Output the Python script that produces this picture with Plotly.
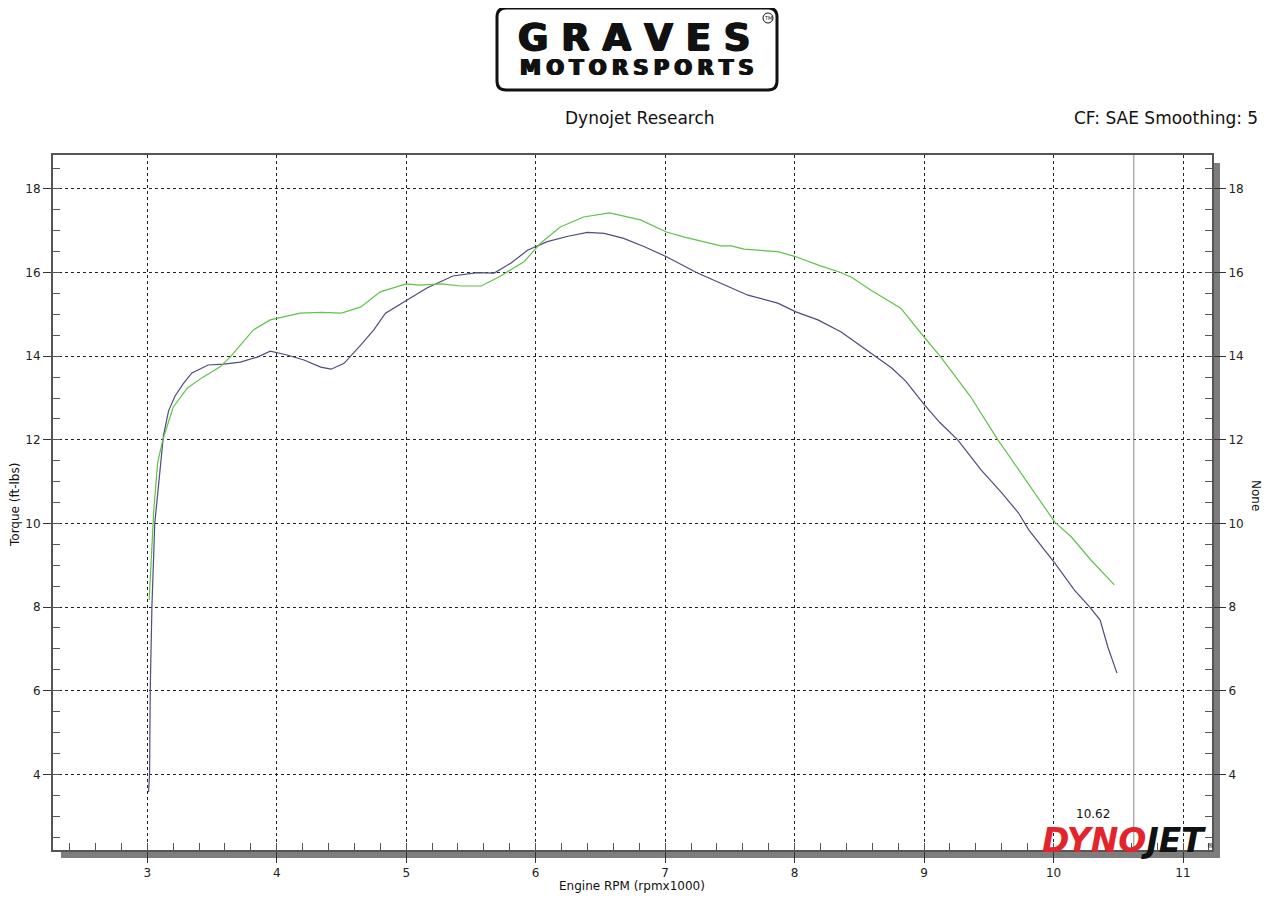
import plotly.graph_objects as go

# ---------------- data (read from the dyno sheet) ----------------
rpm_run1 = [3.01, 3.018, 3.023, 3.036, 3.058, 3.10, 3.125, 3.165, 3.215, 3.28, 3.345, 3.47, 3.59,
            3.72, 3.85, 3.95, 4.08, 4.21, 4.34, 4.42, 4.52, 4.65, 4.75, 4.84, 5.01, 5.16, 5.36,
            5.55, 5.68, 5.81, 5.94, 6.09, 6.25, 6.40, 6.53, 6.68, 6.84, 7.01, 7.25, 7.43, 7.64,
            7.87, 8.01, 8.18, 8.36, 8.49, 8.61, 8.75, 8.86, 9.0, 9.12, 9.26, 9.44, 9.60, 9.73,
            9.81, 10.01, 10.16, 10.28, 10.36, 10.42, 10.49]
torque_run1 = [3.57, 4.0, 6.0, 8.0, 10.0, 11.3, 12.1, 12.7, 13.05, 13.35, 13.6, 13.79, 13.81,
               13.86, 13.98, 14.12, 14.03, 13.91, 13.74, 13.69, 13.83, 14.27, 14.63, 15.03, 15.34,
               15.63, 15.92, 16.0, 15.99, 16.23, 16.54, 16.74, 16.87, 16.96, 16.94, 16.82, 16.62,
               16.38, 15.99, 15.75, 15.46, 15.27, 15.06, 14.87, 14.58, 14.29, 14.03, 13.72, 13.40,
               12.85, 12.42, 12.0, 11.28, 10.73, 10.25, 9.84, 9.05, 8.41, 8.0, 7.69, 7.04, 6.42]

rpm_run2 = [3.015, 3.03, 3.05, 3.08, 3.12, 3.20, 3.31, 3.43, 3.56, 3.64, 3.72, 3.82, 3.95, 4.18,
            4.35, 4.5, 4.65, 4.80, 5.0, 5.10, 5.27, 5.42, 5.58, 5.73, 5.91, 6.04, 6.19, 6.37, 6.57,
            6.71, 6.81, 7.01, 7.15, 7.43, 7.51, 7.61, 7.87, 8.0, 8.20, 8.34, 8.44, 8.59, 8.82, 9.0,
            9.13, 9.36, 9.57, 9.75, 9.91, 10.01, 10.14, 10.29, 10.47]
torque_run2 = [8.17, 9.2, 10.3, 11.45, 12.0, 12.78, 13.24, 13.5, 13.74, 13.98, 14.27, 14.63, 14.87,
               15.03, 15.05, 15.03, 15.18, 15.54, 15.73, 15.70, 15.73, 15.68, 15.68, 15.92, 16.26,
               16.71, 17.09, 17.33, 17.43, 17.33, 17.26, 16.97, 16.85, 16.64, 16.64, 16.56, 16.50,
               16.39, 16.16, 16.02, 15.89, 15.58, 15.15, 14.46, 13.98, 13.03, 12.0, 11.2, 10.49,
               10.03, 9.67, 9.12, 8.53]

x_ticks = [3, 4, 5, 6, 7, 8, 9, 10, 11]
y_ticks = [4, 6, 8, 10, 12, 14, 16, 18]
cursor_rpm = 10.62

header_center = "Dynojet Research"
header_right = "CF: SAE Smoothing: 5"
x_title = "Engine RPM (rpmx1000)"
y_title = "Torque (ft-lbs)"
y2_title = "None"
logo_word1 = "GRAVES"
logo_word2 = "MOTORSPORTS"

# ---------------- layout geometry ----------------
# page body has an 8px margin, so the figure starts at (8, 8) in the window
OFF = 8
W, H = 1280 - OFF, 918 - OFF
L, R, T, B = 53, 1212, 155, 850


def fx(px):
    return (px - L) / (R - L)


def fy(py):
    return (B - py) / (B - T)


FONT = "DejaVu Sans"
BLUE = "#4d4d7e"
GREEN = "#5fc24a"

fig = go.Figure()
fig.add_trace(go.Scatter(x=rpm_run1, y=torque_run1, mode="lines",
                         line=dict(color=BLUE, width=1.2), hoverinfo="x+y", showlegend=False))
fig.add_trace(go.Scatter(x=rpm_run2, y=torque_run2, mode="lines",
                         line=dict(color=GREEN, width=1.2), hoverinfo="x+y", showlegend=False))
# invisible trace so the right axis is drawn
fig.add_trace(go.Scatter(x=[None], y=[None], yaxis="y2", showlegend=False, hoverinfo="skip"))

yr = [2.19, 18.813]
xr = [2.272, 11.224]

axis_common = dict(showline=True, linecolor="#555", linewidth=2, zeroline=False,
                   tickfont=dict(family=FONT, size=12, color="#222"),
                   tickcolor="#333", tickwidth=1)

fig.update_layout(
    width=W, height=H,
    margin=dict(l=L - OFF, r=(1280 - R), t=T - OFF, b=(918 - B), pad=0),
    paper_bgcolor="white", plot_bgcolor="white",
    showlegend=False,
    xaxis=dict(range=xr, tickvals=x_ticks, ticks="outside", ticklen=11,
               showgrid=True, gridcolor="#222", griddash="dot", gridwidth=1,
               mirror=True,
               minor=dict(dtick=0.2, tick0=0, ticks="inside", ticklen=7, tickcolor="#555",
                          showgrid=False),
               **axis_common),
    yaxis=dict(range=yr, tickvals=y_ticks, ticks="outside", ticklen=8,
               showgrid=True, gridcolor="#222", griddash="dot", gridwidth=1,
               mirror=False,
               minor=dict(dtick=0.5, tick0=0, ticks="inside", ticklen=7, tickcolor="#555",
                          showgrid=False),
               **axis_common),
    yaxis2=dict(range=yr, tickvals=y_ticks, ticks="outside", ticklen=12, overlaying="y",
                side="right", showgrid=False,
                minor=dict(dtick=0.5, tick0=0, ticks="inside", ticklen=7, tickcolor="#555",
                           showgrid=False),
                **axis_common),
)

shapes = []
# drop shadow of the plot frame
shapes.append(dict(type="rect", xref="paper", yref="paper", x0=fx(61), x1=fx(1220),
                   y0=fy(858), y1=fy(851), fillcolor="#7d7d7d", line=dict(width=0), layer="below"))
shapes.append(dict(type="rect", xref="paper", yref="paper", x0=fx(1213), x1=fx(1220),
                   y0=fy(858), y1=fy(163), fillcolor="#7d7d7d", line=dict(width=0), layer="below"))
# cursor line
shapes.append(dict(type="line", xref="x", yref="paper", x0=cursor_rpm, x1=cursor_rpm,
                   y0=0, y1=1, line=dict(color="#8a8a8a", width=1)))
# logo rounded rectangle
x0, x1, y0, y1, r = 497, 777, 8, 90, 9
path = (f"M {fx(x0 + r)},{fy(y0)} L {fx(x1 - r)},{fy(y0)} "
        f"Q {fx(x1)},{fy(y0)} {fx(x1)},{fy(y0 + r)} L {fx(x1)},{fy(y1 - r)} "
        f"Q {fx(x1)},{fy(y1)} {fx(x1 - r)},{fy(y1)} L {fx(x0 + r)},{fy(y1)} "
        f"Q {fx(x0)},{fy(y1)} {fx(x0)},{fy(y1 - r)} L {fx(x0)},{fy(y0 + r)} "
        f"Q {fx(x0)},{fy(y0)} {fx(x0 + r)},{fy(y0)} Z")
shapes.append(dict(type="path", xref="paper", yref="paper", path=path,
                   line=dict(color="#111", width=3), fillcolor="white"))
# TM circle
shapes.append(dict(type="circle", xref="paper", yref="paper", x0=fx(763), x1=fx(773),
                   y0=fy(23), y1=fy(13), line=dict(color="#111", width=1)))
fig.update_layout(shapes=shapes)

ann = []


def text(px, py, s, size, color="#111", xanchor="center", angle=0, family=FONT, **kw):
    ann.append(dict(x=fx(px), y=fy(py), xref="paper", yref="paper", text=s, showarrow=False,
                    xanchor=xanchor, yanchor="middle", textangle=angle,
                    font=dict(family=family, size=size, color=color, **kw)))


# header
text(640, 118, header_center, 17, "#111")
text(1260, 118, header_right, 17, "#111", xanchor="right")

# logo words (letter-spaced)
text(634, 37, "<b>" + " ".join(logo_word1) + "</b>", 37, "#111",
     shadow="1px 0px 0px #111, -1px 0px 0px #111, 0px 1px 0px #111")
text(637, 68, "<b>" + "\u2005".join(logo_word2) + "</b>", 21, "#111",
     shadow="1px 0px 0px #111, -1px 0px 0px #111")
text(768, 18, "TM", 5, "#111")

# axis titles
text(15, 505, y_title, 12, "#111", angle=-90)
text(1256, 495, y2_title, 12, "#111", angle=90)
text(632, 886, x_title, 12, "#111")

# cursor value
text(1093, 814, f"{cursor_rpm:.2f}", 12, "#111")

# DYNOJET mark
text(1124, 840, "<b><i><span style='color:#e3242b'>DYNO</span>JET</i></b>", 33, "#111")
text(1210, 846, "®", 7, "#111")

fig.update_layout(annotations=ann)

fig.write_html("out.html")
